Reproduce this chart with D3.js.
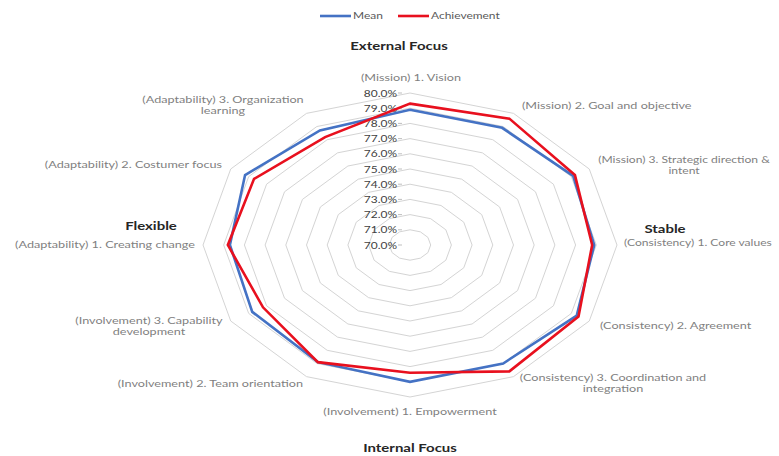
<!DOCTYPE html>
<html>
<head>
<meta charset="utf-8">
<script src="https://cdn.jsdelivr.net/npm/d3@7"></script>
<style>
  html, body { margin: 0; padding: 0; background: #ffffff; }
  svg { display: block; }
  text { font-family: Lato, "Open Sans", sans-serif; }
</style>
</head>
<body>
<svg id="chart" width="779" height="456"></svg>
<script>
// Organisational culture profile: mean vs. achievement per dimension
const categories = [
  "(Mission) 1. Vision",
  "(Mission) 2. Goal and objective",
  "(Mission) 3. Strategic direction & intent",
  "(Consistency) 1. Core values",
  "(Consistency) 2. Agreement",
  "(Consistency) 3. Coordination and integration",
  "(Involvement) 1. Empowerment",
  "(Involvement) 2. Team orientation",
  "(Involvement) 3. Capability development",
  "(Adaptability) 1. Creating change",
  "(Adaptability) 2. Costumer focus",
  "(Adaptability) 3. Organization learning"
];
const meanValues        = [78.9, 78.9, 79.1, 78.9, 79.3, 79.0, 79.0, 78.9, 78.8, 78.7, 79.2, 78.7];
const achievementValues = [79.3, 79.6, 79.2, 78.8, 79.4, 79.6, 78.4, 78.9, 78.2, 78.8, 78.7, 78.2];
const tickValues = [70, 71, 72, 73, 74, 75, 76, 77, 78, 79, 80];
const tickLabels = ["70.0%", "71.0%", "72.0%", "73.0%", "74.0%", "75.0%", "76.0%", "77.0%", "78.0%", "79.0%", "80.0%"];
const seriesNames = ["Mean", "Achievement"];
const seriesColors = ["#4472c4", "#e8101e"];

const svg = d3.select("#chart");
const cx = 410, cy = 245;
const rx = 207, ry = 152;       // plot area is wider than tall
const sx = 1.36;                // matching horizontal stretch for text

const r = d3.scaleLinear().domain([70, 80]).range([0, 1]);
const angle = d3.scaleLinear().domain([0, categories.length]).range([0, 2 * Math.PI]);

const px = (i, v) => cx + rx * r(v) * Math.sin(angle(i));
const py = (i, v) => cy - ry * r(v) * Math.cos(angle(i));

function label(g, x, y, lines, opts) {
  const t = g.append("text")
    .attr("transform", `translate(${x},${y}) scale(${sx},1)`)
    .attr("text-anchor", opts.anchor || "middle")
    .attr("font-size", opts.size || 9)
    .attr("font-weight", opts.weight || "normal")
    .attr("fill", opts.fill || "#7f7f7f");
  lines.forEach((ln, k) => {
    t.append("tspan").attr("x", 0).attr("dy", k === 0 ? 0 : (opts.lh || 11)).text(ln);
  });
  return t;
}

// grid rings
const ring = d3.line().x(d => d[0]).y(d => d[1]).curve(d3.curveLinearClosed);
svg.append("g").selectAll("path")
  .data(tickValues.slice(1))
  .join("path")
  .attr("d", v => ring(categories.map((c, i) => [px(i, v), py(i, v)])))
  .attr("fill", "none")
  .attr("stroke", "#d4d4d4")
  .attr("stroke-width", 1);

// value axis labels along the first spoke
const tg = svg.append("g");
tickValues.forEach((v, k) => {
  label(tg, cx - 13, py(0, v) + 3.5, [tickLabels[k]], { anchor: "end", size: 8.8, fill: "#404040" });
  tg.append("line")
    .attr("x1", cx - 12).attr("x2", cx - 8)
    .attr("y1", py(0, v)).attr("y2", py(0, v))
    .attr("stroke", "#bfbfbf");
});

// series
const series = [meanValues, achievementValues];
const sLine = d3.line()
  .x((v, i) => px(i, v))
  .y((v, i) => py(i, v))
  .curve(d3.curveLinearClosed);
svg.append("g").selectAll("path")
  .data(series)
  .join("path")
  .attr("d", d => sLine(d))
  .attr("fill", "none")
  .attr("stroke", (d, k) => seriesColors[k])
  .attr("stroke-width", 2.6)
  .attr("stroke-linejoin", "miter");

// category labels
const cg = svg.append("g");
const catLayout = [
  { x: 411, y: 81,  anchor: "middle", lines: ["(Mission) 1. Vision"] },
  { x: 522, y: 109, anchor: "start",  lines: ["(Mission) 2. Goal and objective"] },
  { x: 684, y: 163, anchor: "middle", lines: ["(Mission) 3. Strategic direction &", "intent"], size: 8.9 },
  { x: 624, y: 246, anchor: "start",  lines: ["(Consistency) 1. Core values"], size: 8.9 },
  { x: 600, y: 329, anchor: "start",  lines: ["(Consistency) 2. Agreement"] },
  { x: 613, y: 381, anchor: "middle", lines: ["(Consistency) 3. Coordination and", "integration"] },
  { x: 410, y: 415, anchor: "middle", lines: ["(Involvement) 1. Empowerment"] },
  { x: 303, y: 387, anchor: "end",    lines: ["(Involvement) 2. Team orientation"] },
  { x: 149, y: 324, anchor: "middle", lines: ["(Involvement) 3. Capability", "development"] },
  { x: 195, y: 248, anchor: "end",    lines: ["(Adaptability) 1. Creating change"] },
  { x: 222, y: 168, anchor: "end",    lines: ["(Adaptability) 2. Costumer focus"] },
  { x: 223, y: 103, anchor: "middle", lines: ["(Adaptability) 3. Organization", "learning"] }
];
catLayout.forEach(c => {
  label(cg, c.x, c.y, c.lines, { anchor: c.anchor, size: c.size || 9.3, fill: "#7f7f7f", lh: 11 });
});

// quadrant titles
const qg = svg.append("g");
label(qg, 399, 50, ["External Focus"], { size: 11, weight: "bold", fill: "#262626" });
label(qg, 410, 452, ["Internal Focus"], { size: 11, weight: "bold", fill: "#262626" });
label(qg, 665, 233, ["Stable"], { size: 11, weight: "bold", fill: "#262626" });
label(qg, 151, 230, ["Flexible"], { size: 11, weight: "bold", fill: "#262626" });

// legend
const lg = svg.append("g");
const legendX = [320, 398];
seriesNames.forEach((n, k) => {
  lg.append("line")
    .attr("x1", legendX[k]).attr("x2", legendX[k] + 31)
    .attr("y1", 16).attr("y2", 16)
    .attr("stroke", seriesColors[k]).attr("stroke-width", 2.6);
  label(lg, legendX[k] + 33, 19, [n], { anchor: "start", size: 8.8, fill: "#595959" });
});
</script>
</body>
</html>
